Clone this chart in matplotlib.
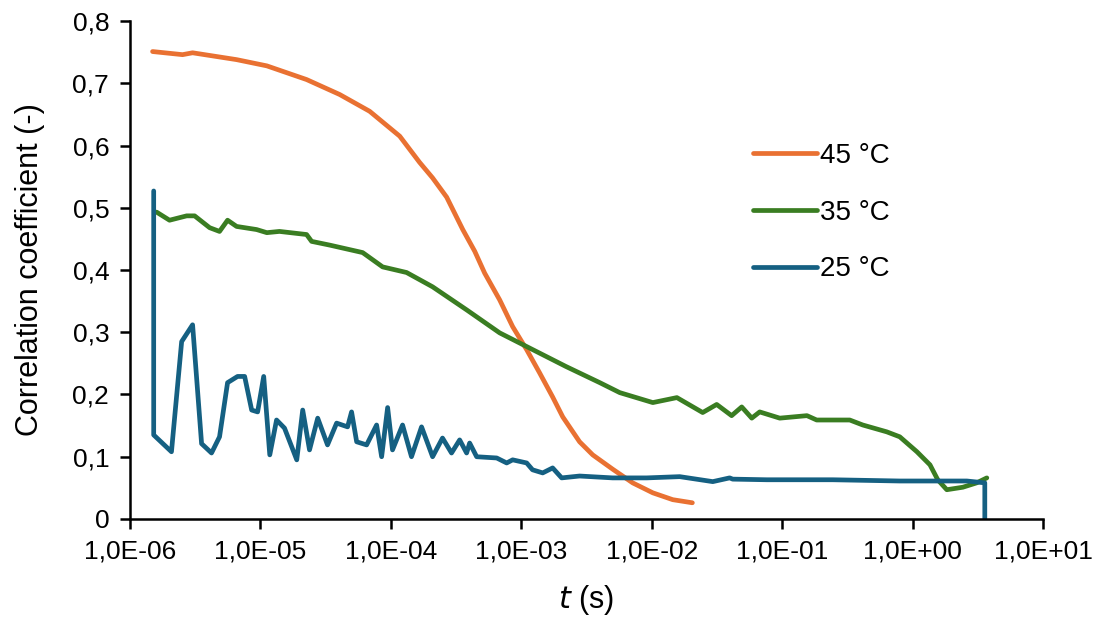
import numpy as np
import matplotlib
matplotlib.use("Agg")
import matplotlib.pyplot as plt
from matplotlib.ticker import FixedLocator, FuncFormatter

plt.rcParams['font.family'] = ['Liberation Sans', 'DejaVu Sans']

# 45 °C
t45 = [1.49e-6, 2.53e-6, 3.02e-6, 6.57e-6, 1.12e-5, 2.26e-5, 4.05e-5, 6.88e-5, 1.17e-4,
       1.66e-4, 2.09e-4, 2.68e-4, 3.56e-4, 4.4e-4, 5.24e-4, 6.83e-4, 8.59e-4, 1.10e-3, 1.38e-3,
       1.74e-3, 2.08e-3, 2.80e-3, 3.53e-3, 5.02e-3, 7.15e-3, 1.02e-2, 1.45e-2, 2.05e-2]
r45 = [0.751, 0.746, 0.749, 0.738, 0.728, 0.706, 0.682, 0.655, 0.615,
       0.573, 0.548, 0.517, 0.465, 0.43, 0.395, 0.352, 0.309, 0.272, 0.235,
       0.196, 0.164, 0.124, 0.103, 0.08, 0.058, 0.042, 0.031, 0.026]

# 35 °C
t35 = [1.60e-6, 2.01e-6, 2.72e-6, 3.13e-6, 4.08e-6, 4.86e-6, 5.6e-6, 6.57e-6, 9.35e-6,
       1.12e-5, 1.40e-5, 2.26e-5, 2.47e-5, 3.40e-5, 6.08e-5, 8.65e-5, 1.32e-4, 2.09e-4,
       3.81e-4, 6.83e-4, 1.10e-3, 2.2e-3, 4.0e-3, 5.69e-3, 1.02e-2, 1.56e-2, 2.46e-2,
       3.15e-2, 4.10e-2, 4.90e-2, 5.85e-2, 6.73e-2, 9.59e-2, 0.155, 0.184, 0.33, 0.415,
       0.634, 0.798, 1.08, 1.36, 1.56, 1.83, 2.43, 3.10, 3.71]
r35 = [0.493, 0.48, 0.487, 0.487, 0.468, 0.462, 0.48, 0.47, 0.465,
       0.46, 0.462, 0.457, 0.446, 0.44, 0.428, 0.405, 0.396, 0.373,
       0.336, 0.299, 0.277, 0.245, 0.219, 0.203, 0.187, 0.195, 0.171,
       0.184, 0.166, 0.18, 0.162, 0.172, 0.162, 0.166, 0.159, 0.159, 0.151,
       0.14, 0.132, 0.108, 0.087, 0.063, 0.047, 0.051, 0.058, 0.066]

# 25 °C
t25 = [1.52e-6, 1.52e-6, 2.08e-6, 2.49e-6, 3.02e-6, 3.54e-6, 4.22e-6, 4.86e-6, 5.6e-6,
       6.68e-6, 7.57e-6, 8.57e-6, 9.52e-6, 1.06e-5, 1.18e-5, 1.33e-5, 1.53e-5, 1.90e-5,
       2.11e-5, 2.38e-5, 2.75e-5, 3.27e-5, 3.84e-5, 4.66e-5, 5.0e-5, 5.47e-5, 6.52e-5,
       7.78e-5, 8.5e-5, 9.45e-5, 1.03e-4, 1.23e-4, 1.44e-4, 1.72e-4, 2.09e-4, 2.49e-4,
       2.92e-4, 3.37e-4, 3.81e-4, 4.02e-4, 4.55e-4, 6.48e-4, 7.73e-4, 8.59e-4, 1.10e-3,
       1.22e-3, 1.46e-3, 1.74e-3, 2.04e-3, 2.80e-3, 5.02e-3, 9.16e-3, 1.64e-2, 2.94e-2,
       3.96e-2, 4.18e-2, 7.62e-2, 0.244, 0.798, 2.61, 3.58, 3.58]
r25 = [0.527, 0.135, 0.108, 0.285, 0.312, 0.121, 0.106, 0.132, 0.219,
       0.229, 0.229, 0.175, 0.172, 0.229, 0.103, 0.159, 0.146, 0.095,
       0.175, 0.111, 0.162, 0.119, 0.154, 0.148, 0.172, 0.124, 0.119,
       0.151, 0.1, 0.179, 0.111, 0.151, 0.1, 0.148, 0.1, 0.13,
       0.106, 0.127, 0.106, 0.122, 0.1, 0.098, 0.09, 0.095, 0.09,
       0.079, 0.074, 0.082, 0.066, 0.069, 0.066, 0.066, 0.068, 0.06,
       0.066, 0.064, 0.063, 0.063, 0.061, 0.061, 0.058, 0.0]

labels = ['45 °C', '35 °C', '25 °C']
colors = ['#E97132', '#3A7D22', '#156082']
xticks = [1e-6, 1e-5, 1e-4, 1e-3, 1e-2, 1e-1, 1e0, 1e1]
yticks = [0, 0.1, 0.2, 0.3, 0.4, 0.5, 0.6, 0.7, 0.8]

fig = plt.figure(figsize=(10.95, 6.19), dpi=100)
ax = fig.add_axes([0.1187, 0.1616, 0.8338, 0.8044])

for t, r, lab, c in zip([t45, t35, t25], [r45, r35, r25], labels, colors):
    ax.plot(t, r, color=c, lw=3.4, label=lab, solid_joinstyle='round', solid_capstyle='round')

ax.set_xscale('log')
ax.set_xlim(1e-6, 1e1)
ax.set_ylim(0, 0.8)
ax.xaxis.set_major_locator(FixedLocator(xticks))
ax.xaxis.set_minor_locator(FixedLocator([]))
ax.yaxis.set_major_locator(FixedLocator(yticks))


def xfmt(v, pos):
    e = int(round(np.log10(v)))
    return '1,0E%s%02d' % ('-' if e < 0 else '+', abs(e))


def yfmt(v, pos):
    return '0' if v == 0 else ('%.1f' % v).replace('.', ',')


ax.xaxis.set_major_formatter(FuncFormatter(xfmt))
ax.yaxis.set_major_formatter(FuncFormatter(yfmt))

for s in ['top', 'right']:
    ax.spines[s].set_visible(False)
for s in ['left', 'bottom']:
    ax.spines[s].set_linewidth(1.8)
    ax.spines[s].set_color('black')
ax.tick_params(axis='both', length=7, width=1.8, labelsize=19, colors='black', pad=8)

ax.set_ylabel('Correlation coefficient (-)', fontsize=22, labelpad=20)
ax.set_xlabel('$\\mathit{t}$ (s)', fontsize=22, labelpad=14)

ax.legend(loc='upper left', bbox_to_anchor=(0.655, 0.805), frameon=False, fontsize=20,
          handlelength=2.3, handletextpad=0.1, labelspacing=1.1)

fig.savefig('out.png', dpi=100)
